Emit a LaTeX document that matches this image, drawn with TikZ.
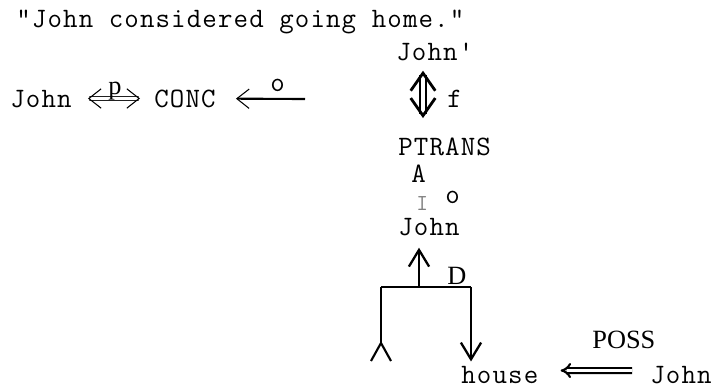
\documentclass[tikz,border=0pt]{standalone}
\usepackage{fontspec}
\setmainfont{Liberation Serif}
\setmonofont[LetterSpace=4]{Latin Modern Mono}
\usetikzlibrary{arrows.meta}

\begin{document}
\begin{tikzpicture}[x=0.02cm, y=-0.02cm,
  every node/.style={font=\ttfamily\fontsize{16}{19}\selectfont, inner sep=0pt, anchor=base west},
  serif/.style={font=\rmfamily\fontsize{15}{18}\selectfont},
  heavy/.style={line width=1.2pt},
  barb/.style={-{Straight Barb[length=9.5pt, width=11.5pt, line width=1.3pt]}},
  twoway/.style={line width=0.45pt, double distance=1.8pt,
    {Straight Barb[length=7pt, width=11pt, line width=0.6pt]}-{Straight Barb[length=7pt, width=11pt, line width=0.6pt]}},
  updown/.style={line width=1.3pt, double distance=2.2pt,
    {Straight Barb[length=10pt, width=14pt, line width=1.6pt]}-{Straight Barb[length=10pt, width=14pt, line width=1.6pt]}},
  implies/.style={line width=1.2pt, double distance=1.6pt, -{Implies}}]
  \useasboundingbox (0,0) rectangle (717,387);
  \node (title) at (16,27) {"John considered going home."};
  % main conceptualization
  \node (john1) at (10,107) {John};
  \node (conc) at (154,107) {CONC};
  \draw[twoway, shorten <=0.32cm, shorten >=0.28cm] (john1) -- (conc);
  \node[serif] (plbl) at (108,94) {p};
  \coordinate (oend) at (305,99);
  \draw[heavy, -{Straight Barb[length=7pt, width=11pt, line width=0.6pt]}, shorten >=0.4cm] (oend) -- (conc);
  \node (olbl) at (270,91) {o};
  % object of CONC
  \node (johnp) at (396,60) {John'};
  \node (ptrans) at (398,155) {PTRANS};
  \coordinate (fx) at (423,0);
  \draw[updown, shorten <=0.2cm, shorten >=0.38cm] (fx |- johnp.south) -- (fx |- ptrans.north);
  \node (flbl) at (447,107) {f};
  \node (attr) at (411,182) {A};
  \node[text=gray, font=\ttfamily\fontsize{13}{15}\selectfont] (bar) at (416,210) {I};
  \node (obj) at (445,203) {o};
  \node (john2) at (398,235) {John};
  % direction case
  \coordinate (dl) at (381,287);
  \coordinate (dm) at (419,287);
  \coordinate (dr) at (471,287);
  \draw[heavy] (dl) -- (dr);
  \node[serif] (dir) at (447,284) {D};
  \draw[heavy, barb, shorten >=0.24cm] (dm) -- (dm |- john2.south);
  \draw[heavy] (dl) -- ++(0,56) coordinate (src);
  \draw[heavy] ([shift={(-10,18)}]src) -- (src) -- ([shift={(10,18)}]src);
  \node (house) at (461,383) {house};
  \draw[heavy, barb, shorten >=0.08cm] (dr) -- (dr |- house.north);
  % possession
  \node (john3) at (650,383) {John};
  \node[serif] (poss) at (592,348) {POSS};
  \draw[implies, shorten <=0.36cm, shorten >=0.44cm] ([yshift=0.08cm]john3.west) -- ([yshift=0.08cm]house.east);
\end{tikzpicture}
\end{document}
